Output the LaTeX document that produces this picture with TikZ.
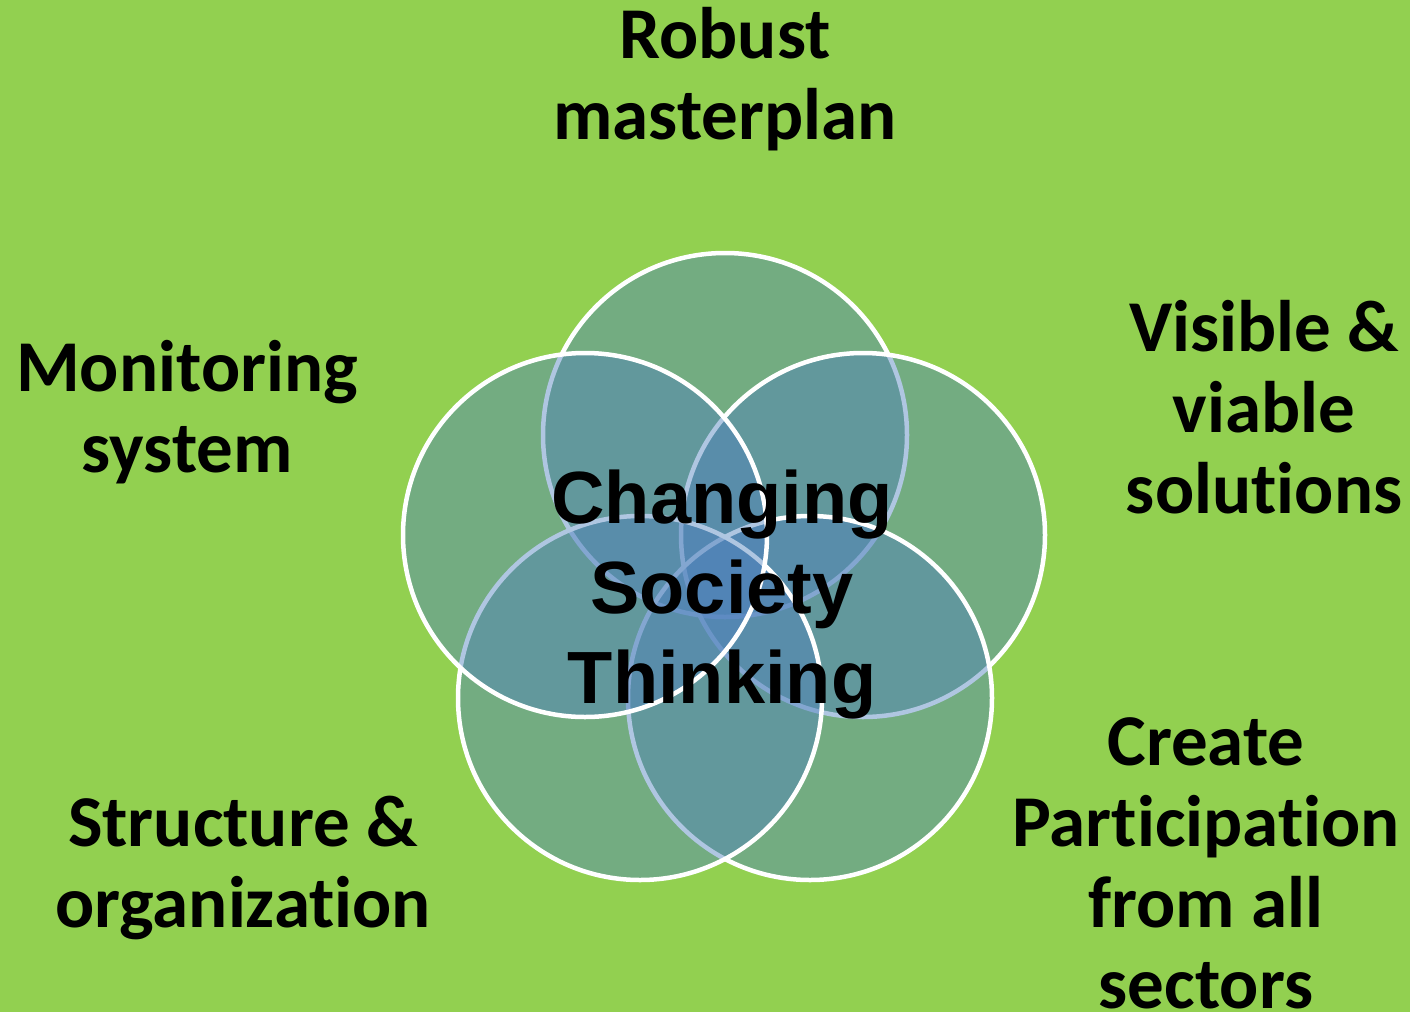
\documentclass[tikz,border=0pt]{standalone}
\usepackage{fontspec}
\setmainfont[Ligatures=NoCommon]{Carlito}
\newfontfamily\centrefont{Liberation Sans}
\definecolor{leafgreen}{RGB}{146,208,80}
\definecolor{vennblue}{RGB}{79,129,189}

\begin{document}
\begin{tikzpicture}[x=1pt,y=-1pt]
  \tikzstyle{every node} = [align=center,inner sep=0pt,anchor=base];
  \tikzstyle{petal} = [fill=vennblue,fill opacity=0.45,draw=white,line width=4.5pt];
  \tikzstyle{goal} = [font=\fontsize{73}{81}\selectfont\bfseries];
  \fill[leafgreen] (0,0) rectangle (1410,1012);
  \useasboundingbox (0,0) rectangle (1410,1012);
  % circles, drawn clockwise from the top
  \foreach \cx/\cy in {725/435, 863/535, 810/698, 640/698, 585/535}
    \draw[petal] (\cx,\cy) circle[radius=182];
  % nodes sit on the baseline of their last line
  \node[font=\centrefont\fontsize{74}{90}\selectfont\bfseries] (centre) at (722,703) {Changing\\Society\\Thinking};
  \node[goal] (robust) at (725,139) {Robust\\masterplan};
  \node[goal] (visible) at (1264,513) {Visible \&\\viable\\solutions};
  \node[goal] (create) at (1206,1008) {Create\\Participation\\from all\\sectors};
  \node[goal] (structure) at (243,927) {Structure \&\\organization};
  \node[goal] (monitoring) at (187,472) {Monitoring\\system};
\end{tikzpicture}
\end{document}
